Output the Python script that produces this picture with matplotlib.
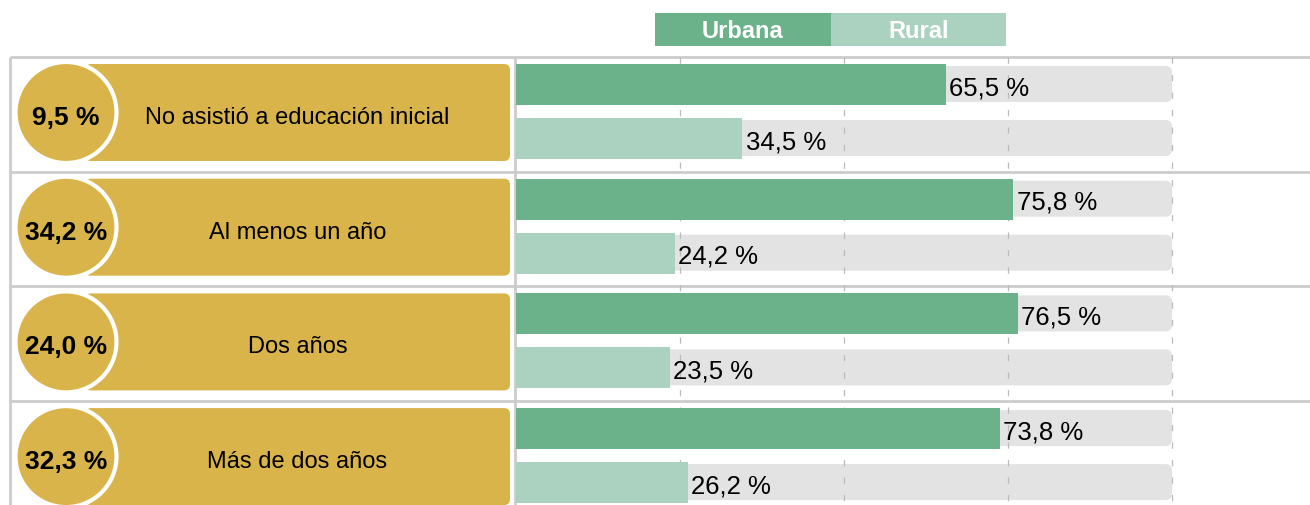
import matplotlib
matplotlib.use("Agg")
import matplotlib.pyplot as plt
from matplotlib.patches import FancyBboxPatch, Circle, Rectangle

plt.rcParams['font.family'] = ['Liberation Sans', 'DejaVu Sans']

# datos
categorias = ["No asistió a educación inicial", "Al menos un año", "Dos años", "Más de dos años"]
total = [9.5, 34.2, 24.0, 32.3]
urbana = [65.5, 75.8, 76.5, 73.8]
rural = [34.5, 24.2, 23.5, 26.2]
series = ["Urbana", "Rural"]

C_URB = "#6bb189"
C_RUR = "#abd1c0"
C_ORO = "#d9b44a"
C_PISTA = "#e3e3e3"
C_LINEA = "#cccccc"

W, H = 1310, 506
fig = plt.figure(figsize=(W / 100, H / 100), dpi=100)

# capa en pixeles para marco, tarjetas y leyenda
ax = fig.add_axes([0, 0, 1, 1])
ax.set_xlim(0, W)
ax.set_ylim(H, 0)
ax.axis("off")

# eje de barras en porcentaje
x0_barras = 516
px_pct = 6.56
bx = fig.add_axes([x0_barras / W, 0, (W - x0_barras) / W, 1])
bx.set_xlim(0, (W - x0_barras) / px_pct)
bx.set_ylim(H, 0)
bx.axis("off")
bx.patch.set_alpha(0)

top0, paso = 65, 114.7
alto_barra, hueco = 41, 13

# leyenda
for i, (nom, col) in enumerate(zip(series, [C_URB, C_RUR])):
    lx = 655 + i * 175.5
    ax.add_patch(Rectangle((lx, 14), 175.5, 33, facecolor=col, edgecolor="none"))
    ax.text(lx + 87.7, 31.5, nom, color="white", fontsize=17, fontweight="bold",
            ha="center", va="center")

# marco de la tabla
sep = [58] + [top0 + paso * i - 7 for i in range(1, 4)]
ax.hlines(sep, 10, W, color=C_LINEA, lw=2, zorder=5)
ax.vlines([10, 515], 58, H, color=C_LINEA, lw=2, zorder=5)

# rejilla
bx.vlines([25, 50, 75, 100], 58, H, color="#bbbbbb", lw=0.9, linestyles=(0, (5, 9)), zorder=2)

for i, cat in enumerate(categorias):
    top = top0 + paso * i
    yc = top + 48.5

    # tarjeta de la izquierda
    ax.add_patch(FancyBboxPatch((85, top), 425, 97, boxstyle="round,pad=0,rounding_size=6",
                                facecolor=C_ORO, edgecolor="none", zorder=2))
    ax.add_patch(Circle((66, yc), 50.5, facecolor=C_ORO, edgecolor="white", lw=3, zorder=3))
    ax.text(66, yc + 4.5, f"{total[i]:.1f} %".replace(".", ","), fontsize=19,
            fontweight="bold", ha="center", va="center", zorder=4)
    ax.text(297.5, yc + 4.5, cat, fontsize=17, ha="center", va="center", zorder=4)

    # pistas grises y barras
    for j, (vals, col) in enumerate([(urbana, C_URB), (rural, C_RUR)]):
        yb = top + j * (alto_barra + hueco)
        bx.add_patch(FancyBboxPatch((0, yb + 2), 100, alto_barra - 5,
                                    boxstyle="round,pad=0,rounding_size=1",
                                    mutation_aspect=px_pct,
                                    facecolor=C_PISTA, edgecolor="none", zorder=1))
        bx.barh(yb, vals[i], height=alto_barra, align="edge", color=col, zorder=3)
        bx.text(vals[i] + 0.5, yb + alto_barra / 2 + 2.5, f"{vals[i]:.1f} %".replace(".", ","),
                fontsize=18.5, ha="left", va="center", zorder=4)

fig.savefig("out.png", dpi=100)
